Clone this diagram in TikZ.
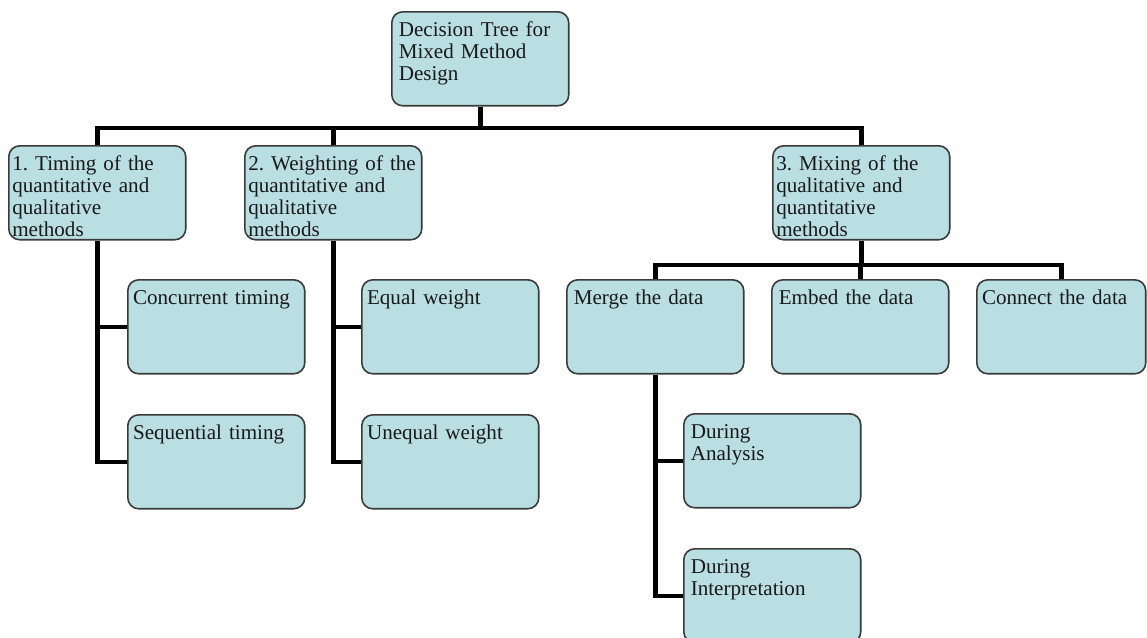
\documentclass[tikz,border=0pt]{standalone}
\usepackage{fontspec}
\setmainfont{Liberation Serif}
\definecolor{boxfill}{HTML}{B9DFE3}
\definecolor{boxline}{HTML}{3A3A3A}
\tikzset{
  box/.style={draw=boxline, fill=boxfill, line width=0.9pt, rounded corners=0.22cm,
    anchor=north west, align=left, text width=3.4cm, text height=0.5cm, text depth=1.38cm,
    inner xsep=0.07cm, inner ysep=0pt, text=black!90, font=\fontsize{12pt}{12.5pt}\selectfont\frenchspacing},
  link/.style={line width=0.09cm, black}
}
\begin{document}
\begin{tikzpicture}[x=0.02cm, y=-0.02cm]
\useasboundingbox (0,0) rectangle (1147,637);
\clip (0,0) rectangle (1147,637);
\coordinate (bus1) at (0,128);
\coordinate (bus2) at (0,265);

\node (root) at (391,11) [box] {\hspace{2pt}Decision Tree for\\\hspace{2pt}Mixed Method\\\hspace{2pt}Design};
\node (timing) at (8,145) [box] {1. Timing of the\\quantitative and\\qualitative\\methods};
\node (weighting) at (244,145) [box] {2. Weighting of the\\quantitative and\\qualitative\\methods};
\node (mixing) at (772,145) [box] {3. Mixing of the\\qualitative and\\quantitative\\methods};
\node (concurrent) at (127,279) [box] {\hspace{1pt}Concurrent timing};
\node (sequential) at (127,414) [box] {\hspace{1pt}Sequential timing};
\node (equal) at (361,279) [box] {\hspace{1pt}Equal weight};
\node (unequal) at (361,414) [box] {\hspace{1pt}Unequal weight};
\node (merge) at (566,279) [box] {\hspace{2pt}Merge the data};
\node (embed) at (771,279) [box] {\hspace{2pt}Embed the data};
\node (connect) at (976,279) [box, text width=3.24cm] {\hspace{1pt}Connect the data};
\node (analysis) at (683,413) [box] {\hspace{2pt}During\\\hspace{2pt}Analysis};
\node (interp) at (683,548) [box] {\hspace{2pt}During\\\hspace{2pt}Interpretation};

\draw[link] (root.south) -- (root.south |- bus1);
\draw[link] (timing.north) -- (timing.north |- bus1) -- (mixing.north |- bus1) -- (mixing.north);
\draw[link] (weighting.north) -- (weighting.north |- bus1);
\draw[link] (timing.south) |- (sequential.west);
\draw[link] (timing.south |- concurrent.west) -- (concurrent.west);
\draw[link] (weighting.south) |- (unequal.west);
\draw[link] (weighting.south |- equal.west) -- (equal.west);
\draw[link] (mixing.south) -- (mixing.south |- bus2);
\draw[link] (merge.north) -- (merge.north |- bus2) -- (connect.north |- bus2) -- (connect.north);
\draw[link] (embed.north) -- (embed.north |- bus2);
\draw[link] (merge.south) |- (interp.west);
\draw[link] (merge.south |- analysis.west) -- (analysis.west);
\end{tikzpicture}
\end{document}
